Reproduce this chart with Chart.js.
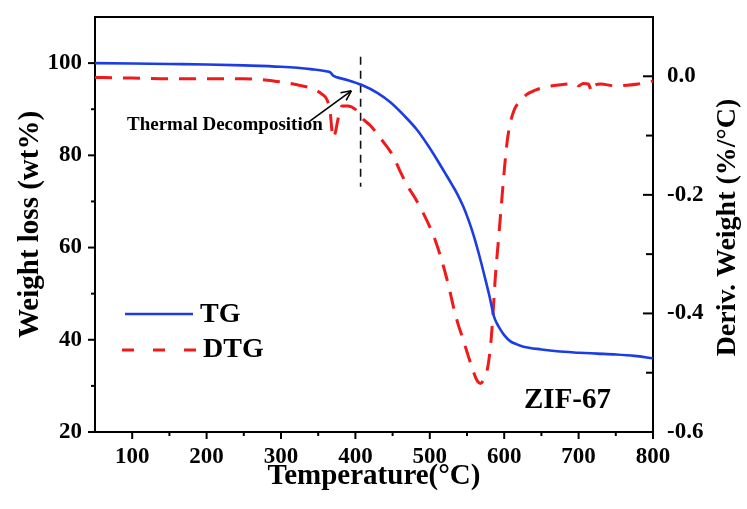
<!DOCTYPE html>
<html>
<head>
<meta charset="utf-8">
<script src="https://cdn.jsdelivr.net/npm/chart.js@4"></script>
<style>
  html, body { margin: 0; padding: 0; background: #fff; }
  #c { display: block; }
</style>
</head>
<body>
<canvas id="c" width="747" height="509"></canvas>
<script>
// ---- data ----
const xTicks = [100, 200, 300, 400, 500, 600, 700, 800];
const xMinorTicks = [150, 250, 350, 450, 550, 650, 750];
const yLeftTicks = [20, 40, 60, 80, 100];
const yLeftMinorTicks = [30, 50, 70, 90];
const yRightTicks = [0.0, -0.2, -0.4, -0.6];
const yRightMinorTicks = [-0.1, -0.3, -0.5];

const tgTemp = [50,100,150,200,250,300,340,362,367,370,374,390,408,430,447,465,483,497,510,520,530,537,545,552,559,566,573,580,586,590,595,600,608,617,626,650,671,700,725,750,775,800];
const tgWeight = [100.0,99.9,99.8,99.7,99.5,99.2,98.7,98.2,97.9,97.3,97.0,96.3,95.3,93.5,91.5,88.7,85.5,82.3,79.0,76.3,73.6,71.6,68.9,66.0,62.6,58.6,54.2,49.6,45.2,43.6,42.2,41.0,39.7,39.0,38.5,37.9,37.5,37.2,37.0,36.8,36.5,36.0];

const dtgTemp = [50,100,150,200,250,290,320,340,355,362,366,370,373,377,382,390,400,410,420,437,450,460,470,480,490,500,508,514,520,526,532,538,543,550,557,563,568,573,578,582,585,588,592,596,600,604,608,613,619,630,647,665,685,695,700,706,713,718,722,730,747,765,780,791,800];
const dtgDeriv = [-0.002,-0.003,-0.004,-0.004,-0.004,-0.008,-0.014,-0.020,-0.030,-0.040,-0.060,-0.104,-0.095,-0.070,-0.050,-0.050,-0.056,-0.072,-0.083,-0.110,-0.133,-0.160,-0.185,-0.205,-0.228,-0.254,-0.279,-0.302,-0.328,-0.357,-0.390,-0.418,-0.437,-0.465,-0.492,-0.512,-0.518,-0.510,-0.490,-0.450,-0.400,-0.340,-0.280,-0.220,-0.160,-0.110,-0.080,-0.058,-0.045,-0.031,-0.021,-0.016,-0.013,-0.011,-0.016,-0.012,-0.013,-0.026,-0.015,-0.013,-0.016,-0.015,-0.013,-0.010,-0.008];

const decompLineTemp = [407, 407];
const decompLineWeight = [101.4, 73.2];

const seriesNames = ['TG', 'DTG'];
const annotationText = 'Thermal Decomposition';
const sampleLabel = 'ZIF-67';
const rightTitle = 'Deriv. Weight (%/°C)';

// ---- styles ----
const BLUE = '#1c3de6';
const RED = '#f01a1a';
const FONT = "'Liberation Serif', 'Times New Roman', serif";

Chart.defaults.font.family = FONT;
Chart.defaults.font.weight = 'bold';
Chart.defaults.color = '#000';

const toPts = (xs, ys) => xs.map((x, i) => ({ x: x, y: ys[i] }));
const noPad = s => { s.paddingTop = 0; s.paddingBottom = 0; s.paddingLeft = 0; s.paddingRight = 0; };

const decor = {
  id: 'decor',
  afterDraw(chart) {
    const { ctx, chartArea: a, scales } = chart;
    const x = scales.x, yL = scales.yL, yR = scales.yR;
    const line = (x1, y1, x2, y2) => { ctx.beginPath(); ctx.moveTo(x1, y1); ctx.lineTo(x2, y2); ctx.stroke(); };
    ctx.save();
    ctx.strokeStyle = '#000';
    ctx.lineWidth = 2;
    ctx.setLineDash([]);
    // top frame
    line(a.left - 1, a.top, a.right + 1, a.top);
    // x ticks (outward)
    xTicks.forEach(v => { const p = x.getPixelForValue(v); line(p, a.bottom, p, a.bottom + 7); });
    xMinorTicks.forEach(v => { const p = x.getPixelForValue(v); line(p, a.bottom, p, a.bottom + 4); });
    // left ticks (outward)
    yLeftTicks.forEach(v => { const p = yL.getPixelForValue(v); line(a.left, p, a.left - 7, p); });
    yLeftMinorTicks.forEach(v => { const p = yL.getPixelForValue(v); line(a.left, p, a.left - 4, p); });
    // right ticks (inward)
    yRightTicks.forEach(v => { const p = yR.getPixelForValue(v); line(a.right, p, a.right - 10, p); });
    yRightMinorTicks.forEach(v => { const p = yR.getPixelForValue(v); line(a.right, p, a.right - 7, p); });

    // annotation text + arrow
    ctx.fillStyle = '#000';
    ctx.font = "bold 19px " + FONT;
    ctx.textAlign = 'left';
    ctx.textBaseline = 'alphabetic';
    ctx.fillText(annotationText, x.getPixelForValue(93), yL.getPixelForValue(85.5));
    const ax1 = x.getPixelForValue(336), ay1 = yL.getPixelForValue(87.1);
    const ax2 = x.getPixelForValue(394.5), ay2 = yL.getPixelForValue(94.0);
    ctx.lineWidth = 1.6;
    line(ax1, ay1, ax2, ay2);
    const ang = Math.atan2(ay2 - ay1, ax2 - ax1);
    const hl = 11;
    line(ax2, ay2, ax2 - hl * Math.cos(ang - 0.45), ay2 - hl * Math.sin(ang - 0.45));
    line(ax2, ay2, ax2 - hl * Math.cos(ang + 0.45), ay2 - hl * Math.sin(ang + 0.45));

    // sample label
    ctx.font = "bold 29px " + FONT;
    ctx.fillText(sampleLabel, 524, 408);

    // right axis title (reads bottom-to-top)
    ctx.save();
    ctx.translate(728, (a.top + a.bottom) / 2 + 3);
    ctx.rotate(-Math.PI / 2);
    ctx.textAlign = 'center';
    ctx.textBaseline = 'middle';
    ctx.font = "bold 28px " + FONT;
    ctx.fillText(rightTitle, 0, 0);
    ctx.restore();

    // legend
    ctx.lineWidth = 2.6;
    ctx.strokeStyle = BLUE;
    line(125, 314, 193, 314);
    ctx.strokeStyle = RED;
    ctx.lineWidth = 3;
    ctx.setLineDash([12, 19]);
    line(122, 350, 196, 350);
    ctx.setLineDash([]);
    ctx.fillStyle = '#000';
    ctx.textAlign = 'left';
    ctx.textBaseline = 'middle';
    ctx.font = "bold 28px " + FONT;
    ctx.fillText(seriesNames[0], 200, 315);
    ctx.fillText(seriesNames[1], 203, 350);
    ctx.restore();
  }
};

new Chart(document.getElementById('c'), {
  type: 'line',
  data: {
    datasets: [
      {
        label: seriesNames[0],
        data: toPts(tgTemp, tgWeight),
        yAxisID: 'yL',
        borderColor: BLUE,
        borderWidth: 2.6,
        pointRadius: 0,
        cubicInterpolationMode: 'monotone',
        fill: false
      },
      {
        label: seriesNames[1],
        data: toPts(dtgTemp, dtgDeriv),
        yAxisID: 'yR',
        borderColor: RED,
        borderWidth: 3,
        borderDash: [17, 11],
        pointRadius: 0,
        cubicInterpolationMode: 'monotone',
        fill: false
      },
      {
        label: 'decomposition',
        data: toPts(decompLineTemp, decompLineWeight),
        yAxisID: 'yL',
        borderColor: '#111',
        borderWidth: 1.6,
        borderDash: [8, 6],
        pointRadius: 0,
        fill: false
      }
    ]
  },
  options: {
    responsive: false,
    animation: false,
    devicePixelRatio: 1,
    layout: { padding: { top: 17, left: 0, right: 0, bottom: 0 } },
    plugins: { legend: { display: false }, tooltip: { enabled: false } },
    scales: {
      x: {
        type: 'linear',
        position: 'bottom',
        min: 50,
        max: 800,
        afterBuildTicks: s => { s.ticks = xTicks.map(v => ({ value: v })); },
        afterFit: s => { s.height = 77; noPad(s); },
        grid: { display: false, drawTicks: false },
        border: { display: true, color: '#000', width: 2 },
        ticks: { font: { size: 23, weight: 'bold', lineHeight: 1.2 }, color: '#000', padding: 11, maxRotation: 0, autoSkip: false },
        title: { display: true, text: 'Temperature(°C)', color: '#000', font: { size: 29, weight: 'bold', lineHeight: 1 }, padding: { top: 0, bottom: 18 } }
      },
      yL: {
        type: 'linear',
        position: 'left',
        min: 20,
        max: 110,
        afterBuildTicks: s => { s.ticks = yLeftTicks.map(v => ({ value: v })); },
        afterFit: s => { s.width = 95; noPad(s); },
        grid: { display: false, drawTicks: false },
        border: { display: true, color: '#000', width: 2 },
        ticks: { font: { size: 23, weight: 'bold', lineHeight: 1.2 }, color: '#000', padding: 13 },
        title: { display: true, text: 'Weight loss (wt%)', color: '#000', font: { size: 29, weight: 'bold', lineHeight: 1 }, padding: { top: 16, bottom: 0 } }
      },
      yR: {
        type: 'linear',
        position: 'right',
        min: -0.6,
        max: 0.1,
        afterBuildTicks: s => { s.ticks = yRightTicks.map(v => ({ value: v })); },
        afterFit: s => { s.width = 94; noPad(s); },
        grid: { display: false, drawTicks: false },
        border: { display: true, color: '#000', width: 2 },
        ticks: { font: { size: 23, weight: 'bold', lineHeight: 1.2 }, color: '#000', padding: 14, callback: v => Number(v).toFixed(1) },
        title: { display: false }
      }
    }
  },
  plugins: [decor]
});
</script>
</body>
</html>
